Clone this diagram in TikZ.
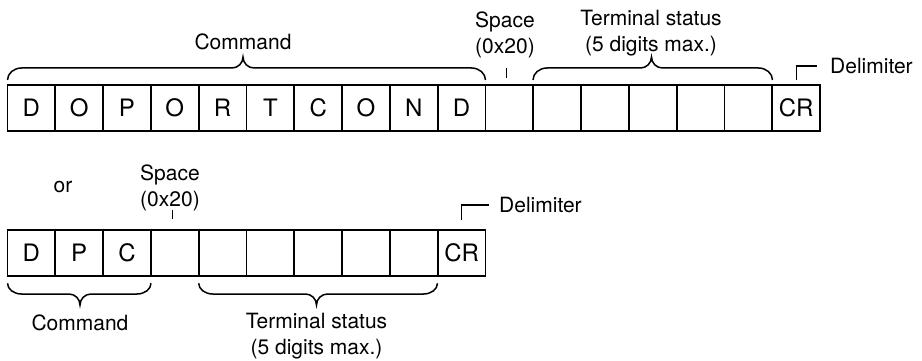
\documentclass[tikz,border=0pt]{standalone}
\usepackage{fontspec}
\setmainfont{TeX Gyre Heros}
\newcommand{\fbrace}[6]{% x1, x2, xm, yend, ylevel, ytip
  \draw[bracestyle] (#1,#4) .. controls (#1,{#4+0.55*(#5-#4)}) and ({#1+0.45*14},#5) .. ({#1+14},#5)
    -- ({#3-11},#5) .. controls ({#3-0.45*11},#5) and (#3,{#5+0.45*(#6-#5)}) .. (#3,#6)
    .. controls (#3,{#5+0.45*(#6-#5)}) and ({#3+0.45*11},#5) .. ({#3+11},#5)
    -- ({#2-14},#5) .. controls ({#2-0.45*14},#5) and (#2,{#4+0.55*(#5-#4)}) .. (#2,#4);}
\tikzset{
  cell/.style={draw, line width=1.7pt, minimum width=47.8pt, minimum height=46pt,
    inner sep=0pt, outer sep=0pt, font=\fontsize{24}{28}\selectfont},
  lbl/.style={inner sep=0pt, align=center, font=\fontsize{21}{26}\selectfont},
  bracestyle/.style={line width=1.5pt},
  tick/.style={line width=1.3pt},
}
\begin{document}
\begin{tikzpicture}[x=1pt,y=-1pt]
\useasboundingbox (0,0) rectangle (922,361);
% top row
\foreach \t [count=\i from 0] in {D,O,P,O,R,T,C,O,N,D,,,,,,,CR}{
  \node[cell] (t\i) at ({7.5+47.8*(\i+0.5)},108) {\t};
}
% bottom row
\foreach \t [count=\i from 0] in {D,P,C,,,,,,,CR}{
  \node[cell] (b\i) at ({7.5+47.8*(\i+0.5)},253) {\t};
}
% top labels
\node[lbl] (tcmd) at (243,42) {Command};
\node[lbl] (tspace) at (505,35) {Space\\(0x20)};
\node[lbl] (tterm) at (651,33) {Terminal status\\(5 digits max.)};
\node[lbl,anchor=west] (tdelim) at (830,66) {Delimiter};
% top braces
\fbrace{7.5}{485.5}{243}{80}{68}{57}
\fbrace{533}{772.5}{651.5}{80}{68}{57}
% top ticks
\draw[tick] (506.7,78) -- (506.7,68);
\draw[tick] ([yshift=5pt]t16.north) |- ([xshift=-13pt]tdelim.west);
% bottom labels
\node[lbl] (bor) at (63,187) {or};
\node[lbl] (bspace) at (170,188) {Space\\(0x20)};
\node[lbl,anchor=west] (bdelim) at (499,205) {Delimiter};
\node[lbl] (bcmd) at (80,323) {Command};
\node[lbl] (bterm) at (316.5,336) {Terminal status\\(5 digits max.)};
% bottom braces
\fbrace{7.5}{151}{80}{283.3}{294}{305}
\fbrace{198.7}{437.5}{316.5}{283.3}{294}{305}
% bottom ticks
\draw[tick] (172.3,219.3) -- (172.3,210);
\draw[tick] ([yshift=10.5pt]b9.north) |- ([xshift=-10pt]bdelim.west);
\end{tikzpicture}
\end{document}
